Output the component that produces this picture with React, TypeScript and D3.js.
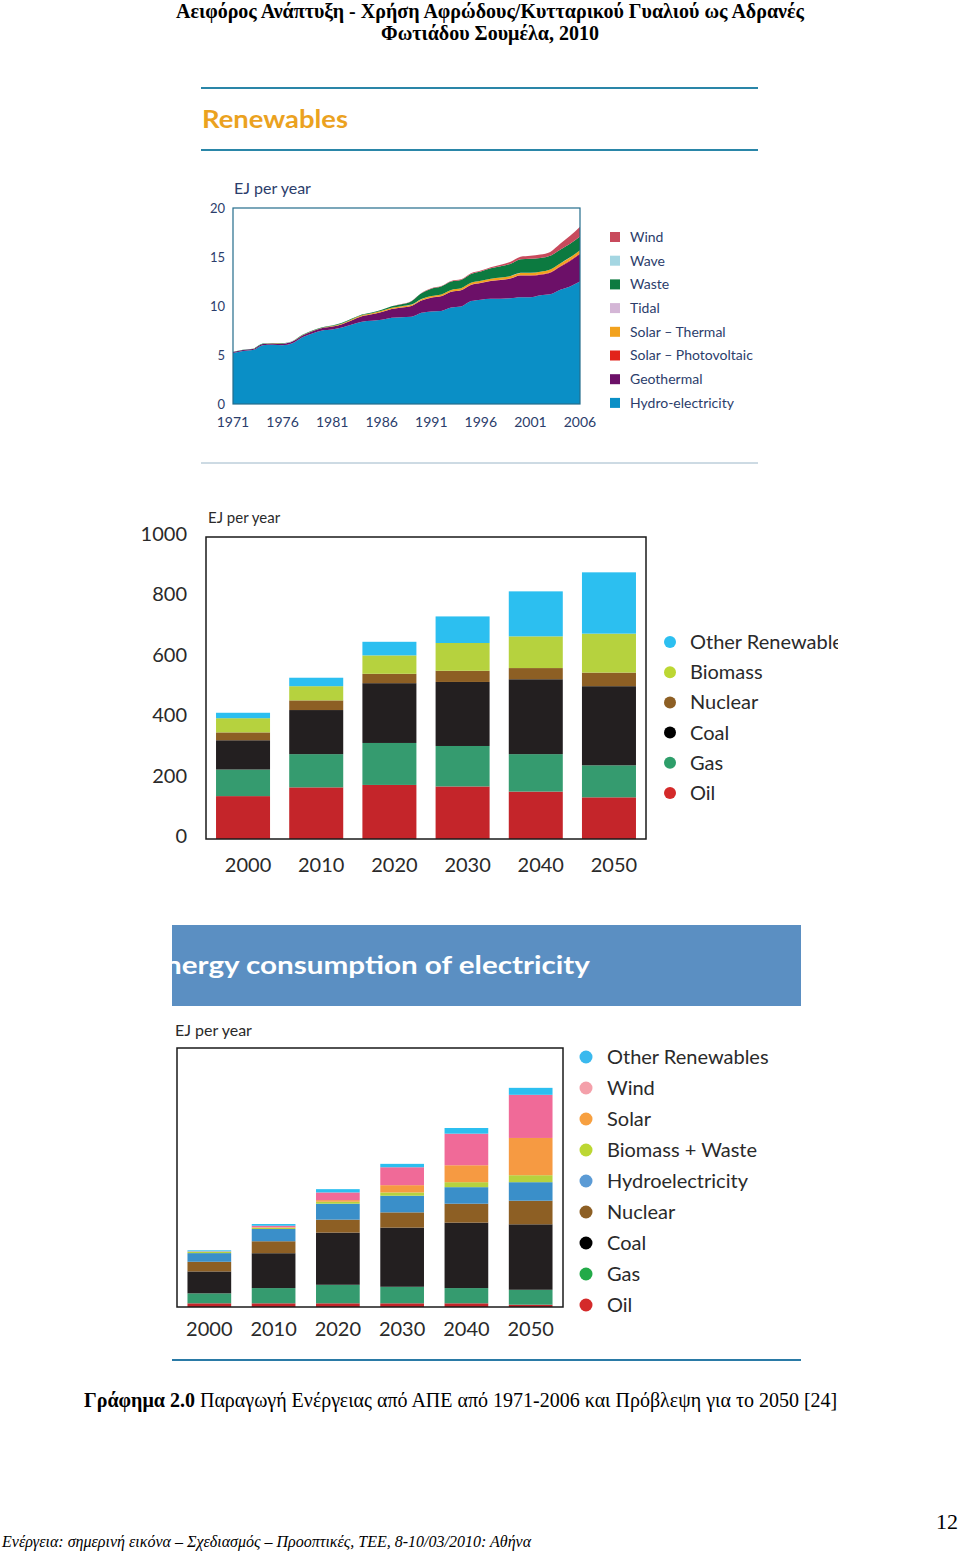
import React from "react";
import * as d3 from "d3";

// ---------- Chart 1: Renewables 1971-2006 (EJ per year) ----------
const years1 = [1971,1972,1973,1974,1975,1976,1977,1978,1979,1980,1981,1982,1983,1984,1985,1986,1987,1988,1989,1990,1991,1992,1993,1994,1995,1996,1997,1998,1999,2000,2001,2002,2003,2004,2005,2006];
const hydro1 = [5.2,5.4,5.5,6.0,6.05,6.0,6.2,6.8,7.2,7.5,7.6,7.8,8.1,8.4,8.5,8.6,8.8,8.85,8.9,9.3,9.45,9.5,9.85,9.95,10.5,10.65,10.75,10.75,10.8,10.9,10.9,11.1,11.2,11.65,12.0,12.5];
const geothermal1 = [0.1,0.1,0.1,0.12,0.13,0.15,0.17,0.2,0.22,0.25,0.3,0.35,0.45,0.55,0.65,0.8,0.9,1.0,1.1,1.25,1.4,1.5,1.6,1.65,1.65,1.7,1.8,1.9,2.0,2.2,2.2,2.1,2.2,2.35,2.6,2.8];
const solarPV1 = [0,0,0,0,0,0,0,0,0,0,0,0,0,0,0,0,0,0,0,0,0.01,0.01,0.01,0.01,0.01,0.01,0.02,0.02,0.02,0.03,0.03,0.04,0.05,0.06,0.07,0.09];
const solarThermal1 = [0.01,0.01,0.01,0.01,0.01,0.02,0.02,0.02,0.03,0.03,0.05,0.07,0.09,0.1,0.1,0.11,0.12,0.13,0.14,0.15,0.16,0.17,0.18,0.19,0.2,0.21,0.22,0.23,0.24,0.25,0.25,0.26,0.27,0.28,0.29,0.3];
const tidal1 = [0.002,0.002,0.002,0.002,0.002,0.002,0.002,0.002,0.002,0.002,0.002,0.002,0.002,0.002,0.002,0.002,0.002,0.002,0.002,0.002,0.002,0.002,0.002,0.002,0.002,0.002,0.002,0.002,0.002,0.002,0.002,0.002,0.002,0.002,0.002,0.002];
const waste1 = [0.03,0.03,0.03,0.03,0.04,0.04,0.04,0.05,0.05,0.05,0.06,0.06,0.07,0.07,0.08,0.1,0.15,0.2,0.35,0.6,0.75,0.8,0.85,0.85,0.9,0.95,1.05,1.15,1.25,1.4,1.45,1.4,1.4,1.4,1.4,1.4];
const wave1 = [0,0,0,0,0,0,0,0,0,0,0,0,0,0,0,0,0,0,0,0,0,0,0,0,0,0,0,0,0,0,0,0,0,0,0,0];
const wind1 = [0,0,0,0,0,0,0,0,0,0,0,0,0,0,0,0,0.01,0.01,0.02,0.03,0.04,0.05,0.06,0.07,0.09,0.1,0.12,0.15,0.2,0.25,0.3,0.35,0.4,0.6,0.8,1.0];
const xTicks1 = [1971,1976,1981,1986,1991,1996,2001,2006];
const yTicks1 = [0,5,10,15,20];
const keys1 = ["hydro","geothermal","solarPV","solarThermal","tidal","waste","wave","wind"];
const labels1: Record<string,string> = {
  wind: "Wind", wave: "Wave", waste: "Waste", tidal: "Tidal",
  solarThermal: "Solar \u2013 Thermal", solarPV: "Solar \u2013 Photovoltaic",
  geothermal: "Geothermal", hydro: "Hydro-electricity",
};
const colors1: Record<string,string> = {
  hydro: "#0a8fc6", geothermal: "#6c1068", solarPV: "#e2231a", solarThermal: "#f2a21e",
  tidal: "#d4b6d6", waste: "#0c7a40", wave: "#a4d6e2", wind: "#c84a5c",
};

// ---------- Chart 2: Primary energy projection (EJ per year) ----------
const cats2 = ["2000","2010","2020","2030","2040","2050"];
const oil2 = [142,171,179,174,157,138];
const gas2 = [88,110,139,134,124,106];
const coal2 = [97,146,198,212,248,262];
const nuclear2 = [26,32,31,37,37,45];
const biomass2 = [47,47,61,92,105,129];
const otherRen2 = [18,28,45,88,149,203];
const yTicks2 = [0,200,400,600,800,1000];
const keys2 = ["oil","gas","coal","nuclear","biomass","other"];
const labels2: Record<string,string> = {
  other: "Other Renewables", biomass: "Biomass", nuclear: "Nuclear", coal: "Coal", gas: "Gas", oil: "Oil",
};
const colors2: Record<string,string> = {
  other: "#2cbff0", biomass: "#b6d23e", nuclear: "#8d5f24", coal: "#231f20", gas: "#359b6f", oil: "#c4252a",
};
const legendColors2: Record<string,string> = {
  other: "#2cbff0", biomass: "#bcd733", nuclear: "#8d5f24", coal: "#000000", gas: "#2e9e6a", oil: "#d42a2a",
};

// ---------- Chart 3: Energy consumption of electricity ----------
const cats3 = ["2000","2010","2020","2030","2040","2050"];
const oil3 = [3.7,3.7,3.7,3.7,3.7,2.3];
const gas3 = [10,15.3,18.6,16.6,15.3,15];
const coal3 = [22,35,52.4,59.4,65.7,65.7];
const nuclear3 = [9.7,12,13,15.3,19,23.7];
const hydro3 = [8.7,12.3,16,16.7,16.6,18.6];
const biomass3 = [1.3,1.3,2,3.3,5,7];
const solar3 = [0.2,0.4,1.6,7.3,17,37.4];
const wind3 = [0.3,1.6,7.7,18,31.7,43.3];
const otherRen3 = [1,1.7,3.3,3.4,5.7,7];
const keys3 = ["oil","gas","coal","nuclear","hydro","biomass","solar","wind","other"];
const labels3: Record<string,string> = {
  other: "Other Renewables", wind: "Wind", solar: "Solar", biomass: "Biomass + Waste",
  hydro: "Hydroelectricity", nuclear: "Nuclear", coal: "Coal", gas: "Gas", oil: "Oil",
};
const colors3: Record<string,string> = {
  other: "#2cbff0", wind: "#f06a98", solar: "#f69a42", biomass: "#b6d23e", hydro: "#3a8fc9",
  nuclear: "#8d5f24", coal: "#231f20", gas: "#359b6f", oil: "#c4252a",
};
const legendColors3: Record<string,string> = {
  other: "#3ab9ee", wind: "#f4a0aa", solar: "#f7a040", biomass: "#bcd733", hydro: "#5b9bd5",
  nuclear: "#8d5f24", coal: "#000000", gas: "#22aa48", oil: "#d42a2a",
};

const SANS = "Lato, 'Open Sans', sans-serif";
const SERIF = "'Liberation Serif', 'DejaVu Serif', serif";

export default function App() {
  // Chart 1
  const x1 = d3.scaleLinear().domain([1971, 2006]).range([233, 580]);
  const y1 = d3.scaleLinear().domain([0, 20]).range([404, 208]);
  const rows1 = years1.map((yr, i) => ({
    year: yr, hydro: hydro1[i], geothermal: geothermal1[i], solarPV: solarPV1[i],
    solarThermal: solarThermal1[i], tidal: tidal1[i], waste: waste1[i], wave: wave1[i], wind: wind1[i],
  }));
  const stacked1 = d3.stack<any>().keys(keys1)(rows1);
  const area1 = d3.area<any>()
    .x((d) => x1(d.data.year))
    .y0((d) => y1(d[0]))
    .y1((d) => y1(d[1]))
    .curve(d3.curveMonotoneX);
  const legend1Keys = [...keys1].reverse();

  // Chart 2
  const x2 = d3.scaleBand().domain(cats2).range([206, 646]).paddingInner(0.262).paddingOuter(0.137);
  const y2 = d3.scaleLinear().domain([0, 1000]).range([839, 537]);
  const rows2 = cats2.map((c, i) => ({
    cat: c, oil: oil2[i], gas: gas2[i], coal: coal2[i], nuclear: nuclear2[i], biomass: biomass2[i], other: otherRen2[i],
  }));
  const stacked2 = d3.stack<any>().keys(keys2)(rows2);
  const legend2Keys = [...keys2].reverse();

  // Chart 3
  const x3 = d3.scaleBand().domain(cats3).range([177, 563]).paddingInner(0.32).paddingOuter(0.163);
  const y3 = d3.scaleLinear().domain([0, 260]).range([1307, 1048]);
  const rows3 = cats3.map((c, i) => ({
    cat: c, oil: oil3[i], gas: gas3[i], coal: coal3[i], nuclear: nuclear3[i], hydro: hydro3[i],
    biomass: biomass3[i], solar: solar3[i], wind: wind3[i], other: otherRen3[i],
  }));
  const stacked3 = d3.stack<any>().keys(keys3)(rows3);
  const legend3Keys = [...keys3].reverse();

  const navy = "#2b3d6b";
  const gray = "#2a2a2a";

  return (
    <svg width={960} height={1553} style={{ position: "absolute", left: 0, top: 0, display: "block", background: "#fff" }}>
      <defs>
        <clipPath id="bannerClip"><rect x={172} y={925} width={629} height={81} /></clipPath>
        <clipPath id="legend2Clip"><rect x={640} y={620} width={198} height={190} /></clipPath>
      </defs>
      <rect x={0} y={0} width={960} height={1553} fill="#fff" />

      {/* Header */}
      <text x={490} y={18} textAnchor="middle" fontFamily={SERIF} fontWeight="bold" fontSize={20} fill="#000">
        Αειφόρος Ανάπτυξη - Χρήση Αφρώδους/Κυτταρικού Γυαλιού ως Αδρανές
      </text>
      <text x={490} y={40} textAnchor="middle" fontFamily={SERIF} fontWeight="bold" fontSize={20} fill="#000">
        Φωτιάδου Σουμέλα, 2010
      </text>

      {/* ---------- Chart 1 ---------- */}
      <line x1={201} x2={758} y1={88} y2={88} stroke="#2a86a8" strokeWidth={2} />
      <text x={202} y={128} fontFamily={SANS} fontWeight="bold" fontSize={24} fill="#eba21f" textLength={146} lengthAdjust="spacingAndGlyphs">
        Renewables
      </text>
      <line x1={201} x2={758} y1={150} y2={150} stroke="#2a86a8" strokeWidth={2} />
      <text x={234} y={194} fontFamily={SANS} fontSize={16} fill={navy}>EJ per year</text>

      {stacked1.map((s) => (
        <path key={s.key} d={area1(s as any) || ""} fill={colors1[s.key]} />
      ))}
      <rect x={233} y={208} width={347} height={196} fill="none" stroke="#246d8c" strokeWidth={1.2} />
      {yTicks1.map((t) => (
        <text key={t} x={225} y={y1(t)} dy="0.35em" textAnchor="end" fontFamily={SANS} fontSize={13} fill={navy}>{t}</text>
      ))}
      {xTicks1.map((t) => (
        <text key={t} x={x1(t)} y={427} textAnchor="middle" fontFamily={SANS} fontSize={14} fill={navy}>{t}</text>
      ))}
      {legend1Keys.map((k, i) => (
        <g key={k} transform={`translate(610, ${237 + i * 23.7})`}>
          <rect x={0} y={-5} width={10} height={10} fill={colors1[k]} />
          <text x={20} y={0} dy="0.35em" fontFamily={SANS} fontSize={14} fill={navy}>{labels1[k]}</text>
        </g>
      ))}
      <line x1={201} x2={758} y1={463} y2={463} stroke="#9bb6c8" strokeWidth={1} />

      {/* ---------- Chart 2 ---------- */}
      <text x={208} y={523} fontFamily={SANS} fontSize={15} fill={gray}>EJ per year</text>
      {stacked2.map((s) => (
        <g key={s.key} fill={colors2[s.key]}>
          {s.map((d: any) => (
            <rect key={d.data.cat} x={x2(d.data.cat)} width={x2.bandwidth()} y={y2(d[1])} height={y2(d[0]) - y2(d[1])} />
          ))}
        </g>
      ))}
      <rect x={206} y={537} width={440} height={302} fill="none" stroke="#1a1a1a" strokeWidth={1.5} />
      {yTicks2.map((t) => (
        <text key={t} x={187} y={y2(t) - 3} dy="0.35em" textAnchor="end" fontFamily={SANS} fontSize={20} fill={gray}>{t}</text>
      ))}
      {cats2.map((c) => (
        <text key={c} x={(x2(c) as number) + x2.bandwidth() / 2 + 5} y={865} dy="0.35em" textAnchor="middle" fontFamily={SANS} fontSize={20} fill={gray}>{c}</text>
      ))}
      <g clipPath="url(#legend2Clip)">
        {legend2Keys.map((k, i) => (
          <g key={k} transform={`translate(670, ${642 + i * 30.2})`}>
            <circle cx={0} cy={0} r={6} fill={legendColors2[k]} />
            <text x={20} y={0} dy="0.35em" fontFamily={SANS} fontSize={20} fill={gray}>{labels2[k]}</text>
          </g>
        ))}
      </g>

      {/* ---------- Chart 3 ---------- */}
      <rect x={172} y={925} width={629} height={81} fill="#5b8fc2" />
      <g clipPath="url(#bannerClip)">
        <text x={165} y={974} fontFamily={SANS} fontWeight="bold" fontSize={25} fill="#fff" textLength={425} lengthAdjust="spacingAndGlyphs">
          nergy consumption of electricity
        </text>
      </g>
      <text x={175} y={1036} fontFamily={SANS} fontSize={16} fill={gray}>EJ per year</text>
      {stacked3.map((s) => (
        <g key={s.key} fill={colors3[s.key]}>
          {s.map((d: any) => (
            <rect key={d.data.cat} x={x3(d.data.cat)} width={x3.bandwidth()} y={y3(d[1])} height={y3(d[0]) - y3(d[1])} />
          ))}
        </g>
      ))}
      <rect x={177} y={1048} width={386} height={259} fill="none" stroke="#1a1a1a" strokeWidth={1.5} />
      {cats3.map((c) => (
        <text key={c} x={(x3(c) as number) + x3.bandwidth() / 2} y={1329} dy="0.35em" textAnchor="middle" fontFamily={SANS} fontSize={20} fill={gray}>{c}</text>
      ))}
      {legend3Keys.map((k, i) => (
        <g key={k} transform={`translate(586, ${1057 + i * 31})`}>
          <circle cx={0} cy={0} r={6.5} fill={legendColors3[k]} />
          <text x={21} y={0} dy="0.35em" fontFamily={SANS} fontSize={20} fill={gray}>{labels3[k]}</text>
        </g>
      ))}
      <line x1={172} x2={801} y1={1360} y2={1360} stroke="#2a7aa6" strokeWidth={2} />

      {/* Caption */}
      <text x={84} y={1407} fontFamily={SERIF} fontSize={20} fill="#000">
        <tspan fontWeight="bold">Γράφημα 2.0</tspan>
        <tspan> Παραγωγή Ενέργειας από ΑΠΕ από 1971-2006 και Πρόβλεψη για το 2050 [24]</tspan>
      </text>

      {/* Footer */}
      <text x={958} y={1529} textAnchor="end" fontFamily={SERIF} fontSize={22} fill="#000">12</text>
      <text x={2} y={1547} fontFamily={SERIF} fontStyle="italic" fontSize={16} fill="#000">
        Ενέργεια: σημερινή εικόνα – Σχεδιασμός – Προοπτικές, ΤΕΕ, 8-10/03/2010: Αθήνα
      </text>
    </svg>
  );
}
